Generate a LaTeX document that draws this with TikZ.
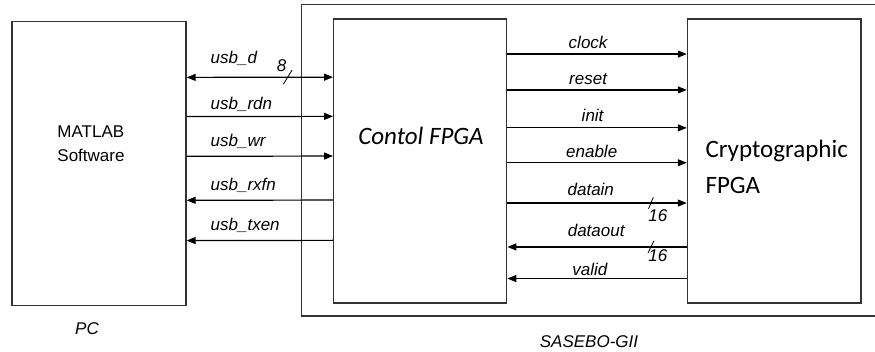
\documentclass[tikz,border=0pt]{standalone}
\usepackage{fontspec}
\setmainfont{Liberation Sans}
\newfontfamily\calibri{Carlito}
\usetikzlibrary{arrows.meta,calc}
\tikzstyle{block}=[draw=black!80,line width=1.3pt,minimum width=174pt,minimum height=284pt,inner sep=0pt]
\tikzstyle{sig}=[line width=1.2pt,>={Triangle[length=9pt,width=7pt]}]
\tikzstyle{lbl}=[font=\fontsize{17}{20}\selectfont\itshape,inner sep=0pt]
\tikzstyle{bus}=[line width=0.8pt]

\begin{document}
\begin{tikzpicture}[x=1pt,y=-1pt]
\useasboundingbox (0,0) rectangle (875,352);
% board outline, cut off at the right margin
\draw[draw=black!80,line width=1.3pt] (875,4.5) -| (301.5,316) -- (875,316);
\node[block] (PC) at (99,163.75) {};
\node[block,minimum width=173pt] (Ctrl) at (420.2,161) {};
\node[block,minimum width=173.5pt] (Crypto) at (774.2,161) {};
\node[align=left,font=\fontsize{17}{23.5}\selectfont] (PCtext) at (91,143.5) {MATLAB\\Software};
\node[font=\calibri\fontsize{25}{30}\selectfont\itshape] (Ctrltext) at (421,136) {Contol FPGA};
\node[align=left,font=\calibri\fontsize{25}{36}\selectfont,anchor=west] (Cryptotext) at (702,167) {Cryptographic\\FPGA};
\node[lbl] (PClbl) at (87,329) {PC};
\node[lbl] (Boardlbl) at (589,342) {SASEBO-GII};
% USB interface
\draw[sig,<->] ($(PC.north east)+(0,56.3)$) -- ($(Ctrl.north west)+(0,58.8)$)
  node[lbl,pos=0.16,anchor=base west,yshift=14pt]{usb\_d}
  coordinate[pos=0.69] (Bus8);
\draw[sig,->] ($(PC.north east)+(0,95.5)$) -- ($(Ctrl.north west)+(0,98)$)
  node[lbl,pos=0.16,anchor=base west,yshift=7pt]{usb\_rdn};
\draw[sig,->] ($(PC.north east)+(0,135.2)$) -- ($(Ctrl.north west)+(0,137.7)$)
  node[lbl,pos=0.16,anchor=base west,yshift=10pt]{usb\_wr};
\draw[sig,<-] ($(PC.north east)+(0,179.2)$) -- ($(Ctrl.north west)+(0,181.7)$)
  node[lbl,pos=0.16,anchor=base west,yshift=9.5pt]{usb\_rxfn};
\draw[sig,<-] ($(PC.north east)+(0,219.5)$) -- ($(Ctrl.north west)+(0,222)$)
  node[lbl,pos=0.16,anchor=base west,yshift=10pt]{usb\_txen};
\draw[bus] (Bus8) +(-4.3,7) -- +(4.3,-7);
\node[lbl] (W8) at ($(Bus8)+(-6,-12)$) {8};
% control to cryptographic FPGA
\draw[sig,->] ($(Ctrl.north east)+(0,35.7)$) -- ($(Crypto.north west)+(0,35.7)$)
  node[lbl,pos=0.45,anchor=base,yshift=6pt]{clock};
\draw[sig,->] ($(Ctrl.north east)+(0,71.6)$) -- ($(Crypto.north west)+(0,71.6)$)
  node[lbl,pos=0.45,anchor=base,yshift=5pt]{reset};
\draw[sig,->] ($(Ctrl.north east)+(0,109.5)$) -- ($(Crypto.north west)+(0,109.5)$)
  node[lbl,pos=0.475,anchor=base,yshift=6pt]{init};
\draw[sig,->] ($(Ctrl.north east)+(0,144.4)$) -- ($(Crypto.north west)+(0,144.4)$)
  node[lbl,pos=0.47,anchor=base,yshift=5pt]{enable};
\draw[sig,->] ($(Ctrl.north east)+(0,184.7)$) -- ($(Crypto.north west)+(0,184.7)$)
  node[lbl,pos=0.465,anchor=base,yshift=8pt]{datain}
  coordinate[pos=0.80] (BusIn);
\draw[sig,<-] ($(Ctrl.north east)+(0,228.6)$) -- ($(Crypto.north west)+(0,228.6)$)
  node[lbl,pos=0.495,anchor=base,yshift=10pt]{dataout}
  coordinate[pos=0.80] (BusOut);
\draw[sig,<-] ($(Ctrl.north east)+(0,260.2)$) -- ($(Crypto.north west)+(0,260.2)$)
  node[lbl,pos=0.46,anchor=base,yshift=3pt]{valid};
\draw[bus] (BusIn) +(-2.4,5.8) -- +(2.4,-5.8);
\node[lbl] (W16in) at ($(BusIn)+(7,13)$) {16};
\draw[bus] (BusOut) +(-3,6.2) -- +(3,-6.2);
\node[lbl] (W16out) at ($(BusOut)+(7,9)$) {16};
\end{tikzpicture}
\end{document}
